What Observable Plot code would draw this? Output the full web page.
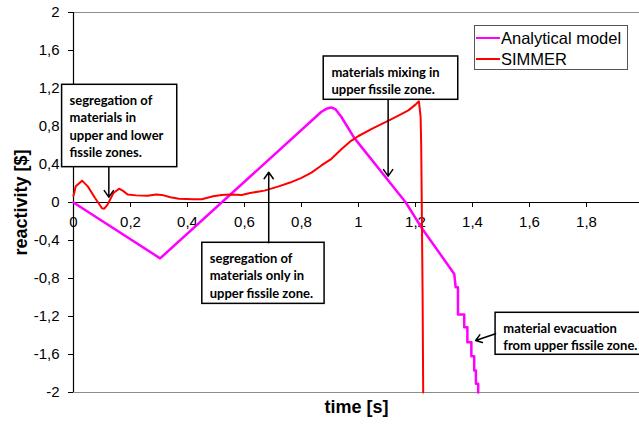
<!DOCTYPE html>
<html><head><meta charset="utf-8">
<script src="https://cdn.jsdelivr.net/npm/d3@7"></script>
<script src="https://cdn.jsdelivr.net/npm/@observablehq/plot@0.6"></script>
<style>
html,body{margin:0;padding:0;background:#fff;overflow:hidden;}
#wrap{position:relative;width:639px;height:428px;overflow:hidden;}
#legend{position:absolute;left:474px;top:25px;width:154px;height:45px;border:1px solid #555;box-sizing:border-box;background:#fff;font-family:"Liberation Sans",Arial,sans-serif;font-size:16.5px;line-height:16px;color:#000;}
#legend .sw{position:absolute;left:1px;width:24px;height:2px;}
#legend .lb{position:absolute;left:26px;white-space:nowrap;}
</style></head><body><div id="wrap"></div>
<script>
// ---- data ----
const seriesNames = ["Analytical model", "SIMMER"];
const seriesColors = ["#ff00ff", "#ff0000"];

const analyticalT = [0, 0.304, 0.87, 0.89, 0.905, 0.92, 0.94, 0.985, 1.166, 1.22, 1.336, 1.341, 1.349, 1.349, 1.371, 1.371, 1.382, 1.382, 1.396, 1.396, 1.406, 1.406, 1.412, 1.412, 1.42, 1.42];
const analyticalR = [0, -0.588, 0.955, 0.99, 1.0, 0.98, 0.9, 0.68, 0, -0.26, -0.752, -0.893, -0.893, -1.18, -1.18, -1.313, -1.313, -1.47, -1.47, -1.618, -1.618, -1.768, -1.768, -1.908, -1.908, -2.0];

const simmerT = [0, 0.008, 0.03, 0.05, 0.075, 0.1, 0.108, 0.12, 0.14, 0.16, 0.175, 0.19, 0.22, 0.26, 0.29, 0.31, 0.34, 0.37, 0.42, 0.45, 0.49, 0.52, 0.55, 0.59, 0.62, 0.67, 0.72, 0.76, 0.8, 0.835, 0.87, 0.905, 0.94, 0.97, 1.0, 1.05, 1.1, 1.14, 1.175, 1.2, 1.212, 1.218, 1.22, 1.222, 1.225, 1.227];
const simmerR = [0.07, 0.17, 0.23, 0.17, 0.05, -0.06, -0.065, -0.02, 0.1, 0.145, 0.12, 0.085, 0.075, 0.07, 0.085, 0.08, 0.055, 0.04, 0.035, 0.035, 0.065, 0.08, 0.085, 0.08, 0.1, 0.125, 0.17, 0.21, 0.26, 0.315, 0.39, 0.46, 0.56, 0.64, 0.7, 0.78, 0.855, 0.915, 0.97, 1.03, 1.065, 0.9, 0.6, 0, -1, -2];

const xTicks = [0, 0.2, 0.4, 0.6, 0.8, 1, 1.2, 1.4, 1.6, 1.8];
const yTicks = [-2, -1.6, -1.2, -0.8, -0.4, 0, 0.4, 0.8, 1.2, 1.6, 2];

const noteTexts = [
  "segregation of\nmaterials in\nupper and lower\nfissile zones.",
  "segregation of\nmaterials only in\nupper fissile zone.",
  "materials mixing in\nupper fissile zone.",
  "material evacuation\nfrom upper fissile zone."
];
// annotation placement (data units): box extent, text anchor, arrow
const boxX1 = [-0.040, 0.452, 0.878, 1.481];
const boxX2 = [0.364, 0.881, 1.350, 2.10];
const boxY1 = [1.239, -0.424, 1.537, -1.161];
const boxY2 = [0.372, -1.067, 1.081, -1.603];
const textX = [-0.014, 0.478, 0.905, 1.508];
const textY = [1.160, -0.506, 1.452, -1.243];
const arrowX1 = [0.124, 0.685, 1.104, 1.481];
const arrowY1 = [0.372, -0.424, 1.081, -1.382];
const arrowX2 = [0.124, 0.685, 1.104, 1.411];
const arrowY2 = [0.056, 0.319, 0.277, -1.453];

// ---- build ----
const analytical = analyticalT.map((t, i) => ({t, r: analyticalR[i]}));
const simmer = simmerT.map((t, i) => ({t, r: simmerR[i]}));
const notes = noteTexts.map((label, i) => ({
  label, x1: boxX1[i], x2: boxX2[i], y1: boxY1[i], y2: boxY2[i],
  tx: textX[i], ty: textY[i], ax1: arrowX1[i], ay1: arrowY1[i], ax2: arrowX2[i], ay2: arrowY2[i]
}));
const fmt = d => String(d).replace(".", ",");

const chart = Plot.plot({
  width: 639, height: 428,
  marginLeft: 73, marginRight: 0, marginTop: 12, marginBottom: 36,
  x: {domain: [0, 1.986], axis: null},
  y: {domain: [-2, 2]},
  style: {fontFamily: "'Liberation Sans', Arial, sans-serif", fontSize: "15px", background: "white", color: "black", overflow: "hidden"},
  marks: [
    Plot.ruleY([2, -2], {stroke: "#8c8c8c", strokeWidth: 1.2}),
    Plot.axisY({ticks: yTicks, tickFormat: fmt, tickSize: 5, tickPadding: 9, label: null, fontSize: 15}),
    Plot.ruleX([0], {stroke: "black", strokeWidth: 1.2}),
    Plot.ruleY([0], {stroke: "black", strokeWidth: 1.2}),
    Plot.ruleX(xTicks, {x: d => d, y1: () => 0, y2: () => 0, insetBottom: -5, stroke: "black"}),
    Plot.text(xTicks, {x: d => d, y: () => 0, text: fmt, dy: 20, fontSize: 15}),
    Plot.line(analytical, {x: "t", y: "r", stroke: seriesColors[0], strokeWidth: 2.5}),
    Plot.line(simmer, {x: "t", y: "r", stroke: seriesColors[1], strokeWidth: 2, curve: "linear"}),
    Plot.rect(notes, {x1: "x1", x2: "x2", y1: "y1", y2: "y2", fill: "white", stroke: "black", strokeWidth: 1.5}),
    Plot.text(notes, {x: "tx", y: "ty", text: "label", textAnchor: "start", lineAnchor: "top", lineHeight: 1.34, fontFamily: "Lato", fontWeight: "bold", fontSize: 13}),
    Plot.arrow(notes, {x1: "ax1", y1: "ay1", x2: "ax2", y2: "ay2", stroke: "black", strokeWidth: 1.5, headLength: 8, headAngle: 70}),
    Plot.text(["reactivity [$]"], {frameAnchor: "left", textAnchor: "middle", lineAnchor: "middle", dx: -52, rotate: -90, fontWeight: "bold", fontSize: 18}),
    Plot.text(["time [s]"], {frameAnchor: "bottom", textAnchor: "middle", dy: 20, fontWeight: "bold", fontSize: 18})
  ]
});
const wrap = document.getElementById("wrap");
wrap.appendChild(chart);

// legend
const lg = document.createElement("div");
lg.id = "legend";
const lineTops = [10.5, 31.5];
const textTops = [4, 25];
seriesNames.forEach((name, i) => {
  const sw = document.createElement("div");
  sw.className = "sw"; sw.style.top = lineTops[i] + "px"; sw.style.background = seriesColors[i];
  const lb = document.createElement("div");
  lb.className = "lb"; lb.style.top = textTops[i] + "px"; lb.textContent = name;
  lg.appendChild(sw); lg.appendChild(lb);
});
wrap.appendChild(lg);
</script>
</body></html>
